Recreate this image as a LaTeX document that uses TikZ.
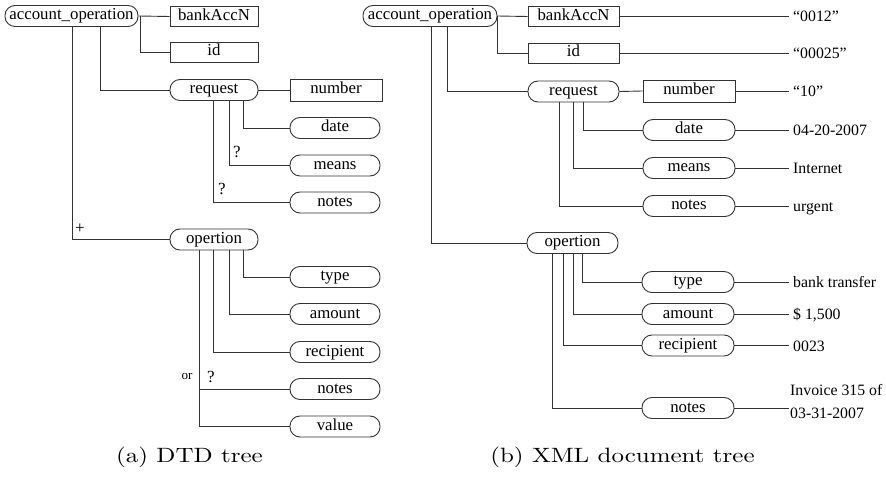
\documentclass[tikz,border=0pt]{standalone}
\usepackage{fontspec}
\newfontfamily\tms{Liberation Serif}
\begin{document}
\begin{tikzpicture}[x=1pt,y=-1pt,
  link/.style={line width=0.9pt,draw=black!80},
  basebox/.style={draw=black!80,line width=0.9pt,inner sep=0pt,
    minimum height=21pt,text height=11.5pt,text depth=3.5pt,
    font=\tms\fontsize{16.8}{18}\selectfont},
  elem/.style={basebox,rounded corners=10pt},
  leaf/.style={basebox,rectangle},
  val/.style={anchor=base west,inner sep=0pt,xshift=4pt,font=\tms\fontsize{15.8}{18}\selectfont},
  tag/.style={inner sep=0pt,font=\tms\fontsize{17}{19}\selectfont},
  subcap/.style={anchor=base,inner sep=0pt,font=\fontsize{10}{12}\selectfont,
    xscale=2.5,yscale=2.07,transform shape}
]
\useasboundingbox (0,0) rectangle (886,478);

% ---------------- DTD tree ----------------
\node[elem,minimum width=133pt] (rA) at (71.5,16) {account\_operation};
\node[leaf,minimum width=88pt,minimum height=20pt] (bankA) at (214,16.5) {bankAccN};
\node[leaf,minimum width=88pt,minimum height=20pt] (idA) at (214,52) {id};
\node[elem,minimum width=88pt] (reqA) at (214,90) {request};
\node[leaf,minimum width=92pt,minimum height=22pt] (numA) at (336,90) {number};
\node[elem,minimum width=90pt] (dateA) at (335,128) {date};
\node[elem,minimum width=90pt] (meansA) at (335,165.5) {means};
\node[elem,minimum width=90pt] (notesA) at (335,202.5) {notes};
\node[elem,minimum width=88pt] (opA) at (214,239.5) {opertion};
\node[elem,minimum width=90pt] (typeA) at (335,277) {type};
\node[elem,minimum width=90pt] (amtA) at (335,314) {amount};
\node[elem,minimum width=90pt] (recA) at (335,352) {recipient};
\node[elem,minimum width=90pt] (notesB) at (335,389) {notes};
\node[elem,minimum width=90pt] (valA) at (335,426.5) {value};

\draw[link] (rA.east) -- (bankA.west);
\draw[link] ([xshift=2pt]rA.east) |- (idA.west);
\draw[link] ([xshift=28.5pt]rA.south) |- (reqA.west);
\draw[link] ([xshift=0.5pt]rA.south) |- (opA.west);
\draw[link] (reqA.east) -- (numA.west);
\draw[link] ([xshift=29pt]reqA.south) |- (dateA.west);
\draw[link] ([xshift=15pt]reqA.south) |- (meansA.west);
\draw[link] ([xshift=-1pt]reqA.south) |- (notesA.west);
\draw[link] ([xshift=29pt]opA.south) |- (typeA.west);
\draw[link] ([xshift=15pt]opA.south) |- (amtA.west);
\draw[link] ([xshift=-1pt]opA.south) |- (recA.west);
\draw[link] ([xshift=-15pt]opA.south) |- (notesB.west);
\draw[link] ([xshift=-15pt]opA.south) |- (valA.west);

\node[tag] (q1) at (237,152) {?};
\node[tag] (q2) at (222,189) {?};
\node[tag] (plus) at (80,229) {+};
\node[tag,font=\tms\fontsize{13}{15}\selectfont] (orl) at (187,377) {or};
\node[tag] (q3) at (211,377) {?};

% ---------------- XML document tree ----------------
\node[elem,minimum width=134pt] (rB) at (430,16) {account\_operation};
\node[leaf,minimum width=91pt,minimum height=20pt] (bankB) at (573.5,16.5) {bankAccN};
\node[leaf,minimum width=91pt,minimum height=20pt] (idB) at (573.5,53) {id};
\node[elem,minimum width=91pt] (reqB) at (573.5,91.5) {request};
\node[leaf,minimum width=92pt,minimum height=22pt] (numB) at (689,91) {number};
\node[elem,minimum width=92pt] (dateB) at (689,130) {date};
\node[elem,minimum width=92pt] (meansB) at (689,168) {means};
\node[elem,minimum width=92pt] (notesC) at (689,206) {notes};
\node[elem,minimum width=91pt] (opB) at (572.5,243) {opertion};
\node[elem,minimum width=92pt] (typeB) at (688,282) {type};
\node[elem,minimum width=92pt] (amtB) at (688,314) {amount};
\node[elem,minimum width=92pt] (recB) at (688,345.5) {recipient};
\node[elem,minimum width=92pt] (notesD) at (688,408) {notes};

\draw[link] (rB.east) -- (bankB.west);
\draw[link] (rB.east) |- (idB.west);
\draw[link] ([xshift=17pt]rB.south) |- (reqB.west);
\draw[link] ([xshift=1pt]rB.south) |- (opB.west);
\draw[link] (reqB.east) -- (numB.west);
\draw[link] ([xshift=9.5pt]reqB.south) |- (dateB.west);
\draw[link] ([xshift=-0.5pt]reqB.south) |- (meansB.west);
\draw[link] ([xshift=-14.5pt]reqB.south) |- (notesC.west);
\draw[link] ([xshift=9.5pt]opB.south) |- (typeB.west);
\draw[link] ([xshift=0.5pt]opB.south) |- (amtB.west);
\draw[link] ([xshift=-9.5pt]opB.south) |- (recB.west);
\draw[link] ([xshift=-20.5pt]opB.south) |- (notesD.west);

% values
\coordinate (v1) at (789,16.5);
\coordinate (v2) at (789,53);
\coordinate (v3) at (789,91);
\coordinate (v4) at (789,130);
\coordinate (v5) at (789,168);
\coordinate (v6) at (789,206);
\coordinate (v7) at (789,282);
\coordinate (v8) at (789,314);
\coordinate (v9) at (789,345.5);
\coordinate (v10) at (789,408);
\draw[link] (bankB.east) -- (v1);
\draw[link] (idB.east) -- (v2);
\draw[link] (numB.east) -- (v3);
\draw[link] (dateB.east) -- (v4);
\draw[link] (meansB.east) -- (v5);
\draw[link] (notesC.east) -- (v6);
\draw[link] (typeB.east) -- (v7);
\draw[link] (amtB.east) -- (v8);
\draw[link] (recB.east) -- (v9);
\draw[link] (notesD.east) -- (v10);
\node[val] (t1) at ([yshift=-5.5pt]v1) {“0012”};
\node[val] (t2) at ([yshift=-5.5pt]v2) {“00025”};
\node[val] (t3) at ([yshift=-5.5pt]v3) {“10”};
\node[val] (t4) at ([yshift=-5.5pt]v4) {04-20-2007};
\node[val] (t5) at ([yshift=-5.5pt]v5) {Internet};
\node[val] (t6) at ([yshift=-5.5pt]v6) {urgent};
\node[val] (t7) at ([yshift=-5.5pt]v7) {bank transfer};
\node[val] (t8) at ([yshift=-5.5pt]v8) {\$ 1,500};
\node[val] (t9) at ([yshift=-5.5pt]v9) {0023};
\node[val,anchor=west,align=left,xshift=-3pt,font=\tms\fontsize{15.8}{23}\selectfont] (t10) at (789,401.5) {Invoice 315 of\\03-31-2007};

% captions
\node[subcap] (capA) at (189.5,462) {(a) DTD tree};
\node[subcap] (capB) at (622.5,462) {(b) XML document tree};
\end{tikzpicture}
\end{document}
